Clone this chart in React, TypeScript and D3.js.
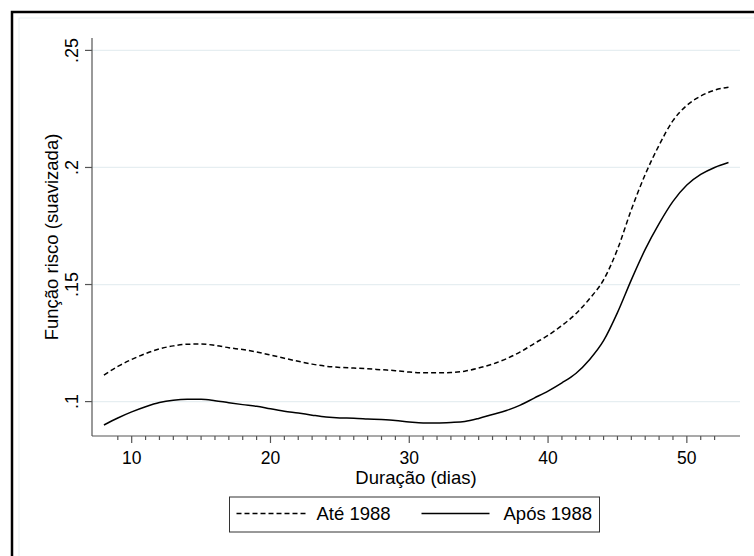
import React from "react";
import * as d3 from "d3";

const days: number[] = [8,9,10,11,12,13,14,15,16,17,18,19,20,21,22,23,24,25,26,27,28,29,30,31,32,33,34,35,36,37,38,39,40,41,42,43,44,45,46,47,48,49,50,51,52,53];
const ate1988: number[] = [0.1113,0.1150,0.1180,0.1205,0.1225,0.1238,0.1245,0.1246,0.1240,0.1230,0.1222,0.1212,0.1199,0.1185,0.1172,0.1160,0.1151,0.1146,0.1143,0.1140,0.1136,0.1132,0.1126,0.1123,0.1123,0.1124,0.1130,0.1143,0.1160,0.1183,0.1212,0.1248,0.1283,0.1325,0.1375,0.1440,0.1520,0.1650,0.1820,0.1970,0.2095,0.2200,0.2265,0.2305,0.2330,0.2343];
const apos1988: number[] = [0.0900,0.0930,0.0956,0.0978,0.0996,0.1006,0.1010,0.1010,0.1004,0.0995,0.0987,0.0980,0.0969,0.0959,0.0951,0.0942,0.0934,0.0930,0.0929,0.0926,0.0923,0.0919,0.0913,0.0909,0.0909,0.0911,0.0915,0.0928,0.0945,0.0962,0.0985,0.1015,0.1045,0.1080,0.1120,0.1180,0.1260,0.1380,0.1520,0.1650,0.1760,0.1855,0.1925,0.1970,0.2000,0.2021];
const yTicks: number[] = [0.1, 0.15, 0.2, 0.25];
const yTickLabels: string[] = [".1", ".15", ".2", ".25"];
const xTicks: number[] = [10, 20, 30, 40, 50];
const xMinorTicks: number[] = d3.range(9, 53).filter((v) => v % 10 !== 0);
const seriesNames: string[] = ["Até 1988", "Após 1988"];
const xTitle = "Duração (dias)";
const yTitle = "Função risco (suavizada)";

const FONT = "'Liberation Sans', Arial, Helvetica, sans-serif";

export default function App() {
  const W = 754, H = 556;
  const left = 92, right = 740, top = 38, bottom = 436;
  const x = d3.scaleLinear().domain([7.14, 53.83]).range([left, right]);
  const y = d3.scaleLinear().domain([0.0853, 0.2553]).range([bottom, top]);

  const line = d3
    .line<number>()
    .x((_, i) => x(days[i]))
    .y((d) => y(d))
    .curve(d3.curveMonotoneX);

  const gridColor = "#e6eef1";
  const axisColor = "#555";

  return (
    <svg
      width={W}
      height={H}
      style={{ position: "absolute", left: 0, top: 0, background: "#fff" }}
      fontFamily={FONT}
    >
      <rect x={0} y={0} width={W} height={H} fill="#fff" />
      {/* outer frame */}
      <rect x={12} y={12} width={900} height={900} fill="none" stroke="#000" strokeWidth={2.5} />
      <rect x={19} y={18} width={900} height={900} fill="none" stroke="#eaf1f3" strokeWidth={1} />

      {/* grid */}
      {yTicks.map((t) => (
        <line key={"g" + t} x1={left} x2={right} y1={y(t)} y2={y(t)} stroke={gridColor} strokeWidth={1.2} />
      ))}

      {/* axes */}
      <line x1={left} x2={left} y1={top} y2={bottom} stroke={axisColor} strokeWidth={1.2} />
      <line x1={left} x2={right} y1={bottom} y2={bottom} stroke={axisColor} strokeWidth={1.2} />

      {/* y ticks */}
      {yTicks.map((t, i) => (
        <g key={"y" + t}>
          <line x1={left - 7} x2={left} y1={y(t)} y2={y(t)} stroke={axisColor} strokeWidth={1.2} />
          <text
            transform={`translate(77.5,${y(t)}) rotate(-90)`}
            textAnchor="middle"
            fontSize={18}
            fill="#000"
          >
            {yTickLabels[i]}
          </text>
        </g>
      ))}

      {/* x ticks */}
      {xMinorTicks.map((t) => (
        <line key={"m" + t} x1={x(t)} x2={x(t)} y1={bottom} y2={bottom + 4} stroke={axisColor} strokeWidth={1.2} />
      ))}
      {xTicks.map((t) => (
        <g key={"x" + t}>
          <line x1={x(t)} x2={x(t)} y1={bottom} y2={bottom + 7} stroke={axisColor} strokeWidth={1.2} />
          <text x={x(t)} y={463.5} textAnchor="middle" fontSize={17.5} fill="#000">
            {t}
          </text>
        </g>
      ))}

      {/* titles */}
      <text x={(left + right) / 2} y={484} textAnchor="middle" fontSize={18.5} fill="#000">
        {xTitle}
      </text>
      <text
        transform={`translate(57.5,${(top + bottom) / 2}) rotate(-90)`}
        textAnchor="middle"
        fontSize={18.5}
        fill="#000"
      >
        {yTitle}
      </text>

      {/* series */}
      <path d={line(ate1988) || ""} fill="none" stroke="#000" strokeWidth={1.5} strokeDasharray="5,3" />
      <path d={line(apos1988) || ""} fill="none" stroke="#000" strokeWidth={1.5} />

      {/* legend */}
      <rect x={229.5} y={497} width={370} height={35} fill="#fff" stroke="#333" strokeWidth={1} />
      <line x1={236.5} x2={307.5} y1={513.5} y2={513.5} stroke="#000" strokeWidth={1.5} strokeDasharray="5,3" />
      <text x={316.5} y={520} fontSize={18.5} fill="#000">{seriesNames[0]}</text>
      <line x1={421.5} x2={489.5} y1={513.5} y2={513.5} stroke="#000" strokeWidth={1.5} />
      <text x={503.5} y={520} fontSize={18.5} fill="#000">{seriesNames[1]}</text>
    </svg>
  );
}
